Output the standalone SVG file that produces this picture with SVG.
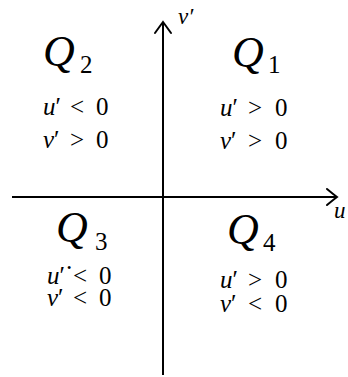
<svg xmlns="http://www.w3.org/2000/svg" width="348" height="377" viewBox="0 0 348 377" font-family="'Liberation Serif', 'Times New Roman', serif" style="font-family:'Liberation Serif','Times New Roman',serif">
<rect width="348" height="377" fill="#fff"/>
<g id="connectors" stroke="#000" stroke-width="2" fill="none" stroke-linecap="round">
<line x1="163" y1="375" x2="163" y2="23" stroke-linecap="butt"/>
<path d="M155,33 Q160,26 163,22 Q166,26 171,33"/>
<line x1="12" y1="197" x2="336" y2="197" stroke-linecap="butt"/>
<path d="M327,189 Q333,194 337,197 Q333,200 327,205"/>
</g>
<g id="axis-v" font-family="Liberation Serif"><text font-family="Liberation Serif" style="font-family:'Liberation Serif',serif" font-size="23" font-style="italic" x="178" y="24">v′</text></g>
<g id="axis-u" font-family="Liberation Serif"><text font-family="Liberation Serif" style="font-family:'Liberation Serif',serif" font-size="23" font-style="italic" x="334" y="218">u</text></g>
<g id="Q2" font-family="Liberation Serif">
<text font-family="Liberation Serif" style="font-family:'Liberation Serif',serif" font-size="44" font-style="italic" x="43" y="66">Q</text>
<text font-family="Liberation Serif" style="font-family:'Liberation Serif',serif" font-size="25" x="80" y="73">2</text>
<text font-family="Liberation Serif" style="font-family:'Liberation Serif',serif" font-size="25" x="43" y="115"><tspan font-style="italic">u</tspan>′<tspan x="70">&lt;</tspan><tspan x="96">0</tspan></text>
<text font-family="Liberation Serif" style="font-family:'Liberation Serif',serif" font-size="25" x="43" y="148"><tspan font-style="italic">v</tspan>′<tspan x="70">&gt;</tspan><tspan x="96">0</tspan></text>
</g>
<g id="Q1" font-family="Liberation Serif">
<text font-family="Liberation Serif" style="font-family:'Liberation Serif',serif" font-size="44" font-style="italic" x="232" y="67">Q</text>
<text font-family="Liberation Serif" style="font-family:'Liberation Serif',serif" font-size="25" x="268" y="73">1</text>
<text font-family="Liberation Serif" style="font-family:'Liberation Serif',serif" font-size="25" x="220" y="116"><tspan font-style="italic">u</tspan>′<tspan x="248">&gt;</tspan><tspan x="275">0</tspan></text>
<text font-family="Liberation Serif" style="font-family:'Liberation Serif',serif" font-size="25" x="220" y="149"><tspan font-style="italic">v</tspan>′<tspan x="248">&gt;</tspan><tspan x="275">0</tspan></text>
</g>
<g id="Q3" font-family="Liberation Serif">
<text font-family="Liberation Serif" style="font-family:'Liberation Serif',serif" font-size="44" font-style="italic" x="56" y="242">Q</text>
<text font-family="Liberation Serif" style="font-family:'Liberation Serif',serif" font-size="25" x="95" y="250">3</text>
<text font-family="Liberation Serif" style="font-family:'Liberation Serif',serif" font-size="25" x="47" y="284"><tspan font-style="italic">u</tspan>′<tspan dy="-8">·</tspan><tspan x="73" dy="8">&lt;</tspan><tspan x="99">0</tspan></text>
<text font-family="Liberation Serif" style="font-family:'Liberation Serif',serif" font-size="25" x="47" y="306"><tspan font-style="italic">v</tspan>′<tspan x="73">&lt;</tspan><tspan x="99">0</tspan></text>
</g>
<g id="Q4" font-family="Liberation Serif">
<text font-family="Liberation Serif" style="font-family:'Liberation Serif',serif" font-size="44" font-style="italic" x="227" y="244">Q</text>
<text font-family="Liberation Serif" style="font-family:'Liberation Serif',serif" font-size="25" x="263" y="251">4</text>
<text font-family="Liberation Serif" style="font-family:'Liberation Serif',serif" font-size="25" x="220" y="288"><tspan font-style="italic">u</tspan>′<tspan x="248">&gt;</tspan><tspan x="275">0</tspan></text>
<text font-family="Liberation Serif" style="font-family:'Liberation Serif',serif" font-size="25" x="220" y="312"><tspan font-style="italic">v</tspan>′<tspan x="248">&lt;</tspan><tspan x="275">0</tspan></text>
</g>
</svg>
